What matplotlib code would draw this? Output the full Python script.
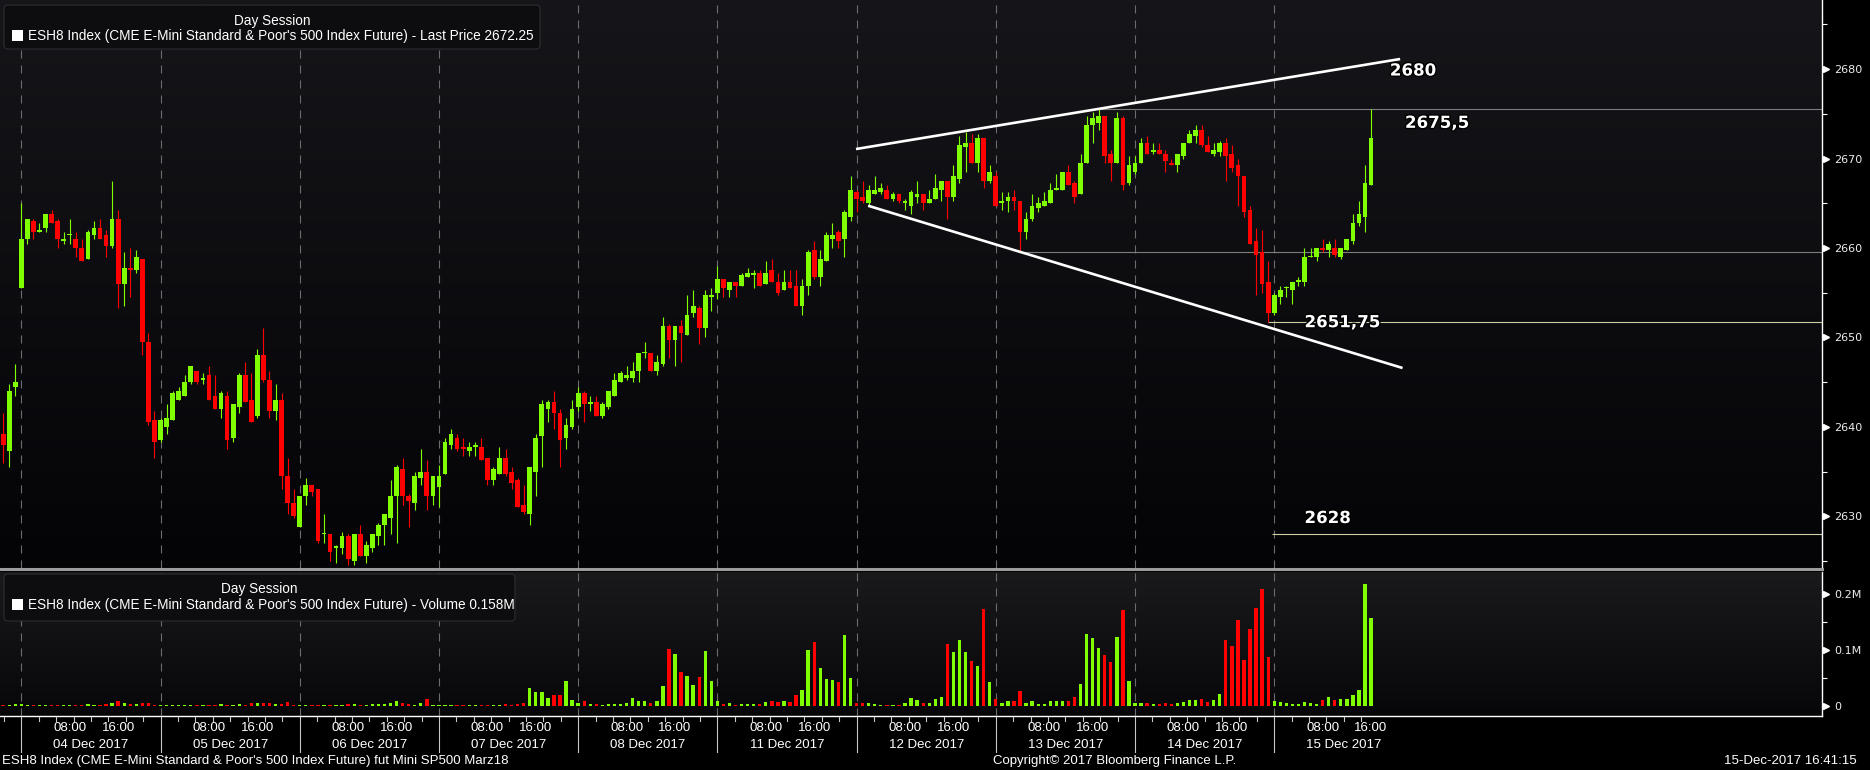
import numpy as np
import matplotlib
matplotlib.use('Agg')
import matplotlib.pyplot as plt
import matplotlib.transforms as mtrans
import matplotlib.patheffects as pe
from matplotlib.patches import FancyBboxPatch, Rectangle
from matplotlib.lines import Line2D

plt.rcParams['font.family'] = ['Liberation Sans', 'DejaVu Sans']
plt.rcParams['lines.scale_dashes'] = False

# hourly bars, bar 0 = 04 Dec 00:00, 23 bars per trading day
first_bar = -3
bars_per_day = 23
days = ['04 Dec 2017', '05 Dec 2017', '06 Dec 2017', '07 Dec 2017', '08 Dec 2017',
        '11 Dec 2017', '12 Dec 2017', '13 Dec 2017', '14 Dec 2017', '15 Dec 2017']

opens = [
    2639.25, 2637.25, 2644.5,
    2655.5, 2661.0, 2663.0, 2661.75, 2662.25, 2663.75, 2663.0, 2660.75, 2661.5, 2661.0, 2660.0, 2658.75, 2661.5, 2662.25, 2661.5, 2660.25, 2663.25, 2656.0, 2657.75, 2657.5, 2658.75, 2649.5, 2640.75,
    2638.5, 2640.0, 2640.75, 2643.0, 2643.5, 2645.0, 2646.25, 2645.25, 2645.75, 2643.5, 2642.0, 2643.5, 2638.75, 2642.25, 2645.75, 2643.0, 2641.25, 2648.0, 2645.25, 2641.75, 2643.0, 2634.5, 2631.5,
    2628.75, 2632.25, 2633.5, 2633.0, 2628.0, 2628.0, 2626.5, 2626.5, 2627.75, 2625.0, 2628.0, 2625.5, 2626.5, 2627.75, 2629.0, 2629.75, 2632.25, 2635.25, 2632.25, 2631.5, 2634.25, 2635.0, 2632.25,
    2633.25, 2634.75, 2638.0, 2638.75, 2637.75, 2637.25, 2637.75, 2637.75, 2636.5, 2634.0, 2634.75, 2636.5, 2635.0, 2634.0, 2631.25, 2630.25, 2635.0, 2639.0, 2642.0, 2642.75, 2641.5, 2638.75, 2640.0,
    2642.25, 2643.75, 2642.5, 2642.75, 2641.25, 2642.25, 2643.5, 2645.0, 2645.5, 2645.5, 2646.25, 2648.25, 2648.25, 2646.25, 2647.0, 2651.25, 2649.75, 2651.25, 2650.25, 2652.75, 2653.25, 2651.0, 2654.5,
    2655.0, 2656.5, 2655.25, 2656.25, 2655.75, 2656.75, 2657.0, 2657.25, 2656.0, 2657.5, 2656.25, 2655.25, 2656.25, 2655.75, 2653.5, 2655.75, 2659.75, 2656.75, 2658.5, 2661.0, 2661.75, 2661.0, 2663.5,
    2666.25, 2665.75, 2665.0, 2666.0, 2666.25, 2666.5, 2665.5, 2666.0, 2665.0, 2664.75, 2665.75, 2666.0, 2665.0, 2665.5, 2666.5, 2667.5, 2665.75, 2667.75, 2671.25, 2671.75, 2669.5, 2672.25, 2667.5,
    2668.0, 2665.0, 2665.25, 2665.75, 2665.25, 2661.75, 2663.25, 2664.5, 2664.75, 2665.0, 2666.5, 2666.5, 2668.5, 2667.25, 2666.0, 2669.5, 2673.75, 2674.0, 2674.75, 2670.5, 2669.5, 2674.5, 2667.25,
    2668.5, 2669.5, 2671.75, 2670.75, 2671.0, 2670.5, 2669.5, 2669.25, 2670.25, 2671.75, 2672.5, 2673.25, 2671.5, 2670.5, 2670.75, 2671.75, 2670.5, 2669.25, 2668.0, 2664.25, 2660.75, 2659.5, 2656.25,
    2652.75, 2654.5, 2655.5, 2655.25, 2656.25, 2656.25, 2659.0, 2659.0, 2660.0, 2659.75, 2660.0, 2659.0, 2659.75, 2660.75, 2662.75, 2663.5, 2667.0,
]
highs = [
    2641.5, 2644.75, 2647.0,
    2665.0, 2663.25, 2663.25, 2662.75, 2663.75, 2664.25, 2663.25, 2661.75, 2663.25, 2661.75, 2661.0, 2662.0, 2663.0, 2663.25, 2662.0, 2667.5, 2664.25, 2659.5, 2660.0, 2659.75, 2658.75, 2650.5, 2641.75,
    2641.0, 2642.5, 2644.0, 2644.5, 2645.75, 2646.75, 2646.25, 2646.0, 2646.75, 2645.75, 2644.0, 2644.0, 2642.5, 2646.0, 2647.25, 2646.0, 2648.75, 2651.0, 2646.25, 2644.75, 2643.75, 2636.5, 2633.0,
    2632.25, 2634.25, 2633.5, 2633.0, 2630.25, 2628.0, 2626.75, 2628.25, 2628.0, 2628.0, 2629.0, 2627.25, 2628.0, 2629.25, 2630.25, 2634.0, 2635.75, 2636.5, 2632.5, 2635.0, 2637.5, 2636.25, 2634.5,
    2635.75, 2638.75, 2639.75, 2639.25, 2638.75, 2638.25, 2638.25, 2638.75, 2636.5, 2635.5, 2637.75, 2637.5, 2635.5, 2634.25, 2633.5, 2635.5, 2639.25, 2643.0, 2643.0, 2644.0, 2642.0, 2641.0, 2643.0,
    2644.5, 2644.0, 2643.5, 2643.5, 2642.75, 2644.0, 2646.0, 2646.25, 2646.75, 2647.25, 2648.25, 2649.5, 2648.25, 2648.0, 2652.25, 2651.5, 2651.25, 2652.0, 2654.75, 2655.25, 2653.5, 2655.25, 2655.5,
    2658.0, 2656.5, 2656.25, 2656.25, 2657.25, 2657.75, 2657.5, 2657.5, 2658.5, 2658.75, 2657.25, 2657.5, 2657.5, 2657.5, 2656.5, 2659.75, 2660.75, 2659.75, 2661.75, 2662.75, 2662.0, 2664.25, 2668.0,
    2666.5, 2667.5, 2667.0, 2668.0, 2667.25, 2667.0, 2666.25, 2666.0, 2665.5, 2666.5, 2667.5, 2666.0, 2666.5, 2668.25, 2667.5, 2667.5, 2669.25, 2672.5, 2673.0, 2672.75, 2672.75, 2672.25, 2669.25,
    2668.5, 2666.25, 2666.25, 2666.5, 2665.25, 2664.0, 2666.0, 2665.75, 2666.25, 2667.25, 2668.25, 2668.5, 2669.25, 2667.5, 2670.5, 2674.75, 2675.25, 2675.5, 2674.75, 2671.0, 2675.25, 2674.75, 2670.25,
    2670.25, 2672.25, 2672.5, 2671.75, 2671.75, 2671.0, 2670.0, 2670.5, 2671.75, 2673.25, 2673.75, 2673.75, 2672.5, 2671.75, 2672.0, 2672.25, 2671.5, 2670.0, 2668.0, 2664.75, 2662.25, 2662.0, 2658.5,
    2655.0, 2655.75, 2655.75, 2656.25, 2656.75, 2660.0, 2660.0, 2660.0, 2661.0, 2660.75, 2661.0, 2660.0, 2661.0, 2663.75, 2665.25, 2669.25, 2675.5,
]
lows = [
    2636.0, 2635.5, 2643.5,
    2655.5, 2660.5, 2661.0, 2661.75, 2661.75, 2662.75, 2660.0, 2660.5, 2660.5, 2659.0, 2658.5, 2658.75, 2661.0, 2661.0, 2659.0, 2660.0, 2653.25, 2653.5, 2654.5, 2657.25, 2648.0, 2640.25, 2636.5,
    2638.25, 2639.25, 2640.75, 2643.0, 2643.5, 2644.75, 2644.75, 2644.75, 2643.0, 2642.0, 2641.0, 2637.5, 2638.25, 2641.5, 2642.75, 2640.5, 2641.0, 2645.0, 2641.0, 2640.75, 2633.0, 2630.25, 2629.75,
    2628.75, 2631.25, 2632.25, 2627.0, 2627.0, 2625.0, 2624.75, 2625.75, 2624.5, 2624.5, 2625.5, 2624.75, 2626.0, 2626.75, 2626.75, 2628.0, 2627.0, 2631.25, 2628.75, 2630.75, 2633.5, 2630.75, 2631.25,
    2631.0, 2634.75, 2637.5, 2637.25, 2636.75, 2636.75, 2636.75, 2636.25, 2633.5, 2633.5, 2634.75, 2634.5, 2633.0, 2631.0, 2630.25, 2629.0, 2632.25, 2635.5, 2640.5, 2639.75, 2635.5, 2637.5, 2639.75,
    2641.75, 2640.5, 2641.75, 2641.25, 2641.0, 2642.0, 2643.5, 2645.0, 2645.25, 2645.0, 2645.0, 2647.75, 2646.25, 2645.75, 2646.75, 2647.75, 2646.75, 2647.25, 2650.25, 2652.25, 2649.25, 2650.0, 2653.0,
    2654.25, 2654.5, 2654.5, 2654.5, 2655.75, 2656.75, 2655.5, 2655.75, 2656.0, 2656.25, 2654.75, 2655.25, 2655.5, 2653.5, 2652.5, 2654.75, 2656.5, 2655.75, 2658.5, 2660.0, 2660.0, 2659.0, 2663.0,
    2664.0, 2665.0, 2664.75, 2666.0, 2666.0, 2665.5, 2665.25, 2665.0, 2664.25, 2663.75, 2665.0, 2664.25, 2665.0, 2665.5, 2665.25, 2663.25, 2665.25, 2667.25, 2668.5, 2669.5, 2668.5, 2666.75, 2667.25,
    2664.75, 2664.25, 2664.0, 2664.25, 2659.5, 2661.0, 2663.0, 2664.0, 2664.75, 2665.0, 2666.5, 2666.5, 2667.0, 2665.0, 2666.0, 2669.5, 2671.75, 2673.25, 2669.5, 2667.5, 2669.5, 2666.5, 2667.0,
    2668.25, 2669.5, 2670.5, 2670.5, 2670.5, 2668.5, 2669.25, 2668.5, 2670.0, 2671.75, 2671.75, 2671.25, 2670.75, 2670.25, 2670.25, 2667.5, 2668.5, 2664.75, 2663.5, 2660.5, 2654.75, 2655.0, 2651.75,
    2652.5, 2653.75, 2654.5, 2653.75, 2655.75, 2655.75, 2659.0, 2658.5, 2659.5, 2659.0, 2659.0, 2658.75, 2659.75, 2660.5, 2662.5, 2661.75, 2667.0,
]
closes = [
    2638.0, 2644.0, 2645.0,
    2661.0, 2663.25, 2661.75, 2662.0, 2663.75, 2662.75, 2661.0, 2661.0, 2661.5, 2660.0, 2658.5, 2661.75, 2662.25, 2661.0, 2660.25, 2663.25, 2656.0, 2657.75, 2657.5, 2659.0, 2649.5, 2640.5, 2638.25,
    2640.75, 2641.0, 2643.75, 2644.0, 2645.0, 2646.75, 2645.0, 2645.5, 2643.0, 2642.0, 2643.75, 2638.5, 2642.5, 2645.75, 2642.75, 2640.5, 2648.0, 2645.25, 2641.75, 2643.0, 2634.5, 2631.5, 2630.0,
    2632.25, 2633.5, 2632.75, 2627.25, 2628.0, 2626.0, 2626.5, 2627.75, 2625.25, 2628.0, 2625.5, 2626.75, 2628.0, 2629.0, 2630.25, 2632.25, 2635.5, 2632.25, 2631.75, 2634.5, 2635.0, 2632.25, 2634.5,
    2634.5, 2638.25, 2639.25, 2637.5, 2637.5, 2637.75, 2638.0, 2636.25, 2634.0, 2635.25, 2636.5, 2634.75, 2633.75, 2631.0, 2630.5, 2635.5, 2638.75, 2642.5, 2642.75, 2641.5, 2638.5, 2640.25, 2642.0,
    2643.75, 2642.5, 2642.75, 2641.25, 2642.5, 2644.0, 2645.25, 2646.0, 2645.75, 2646.25, 2648.25, 2648.25, 2646.25, 2647.25, 2651.25, 2649.75, 2651.25, 2650.5, 2652.5, 2653.5, 2651.0, 2654.75, 2654.75,
    2656.5, 2655.5, 2656.25, 2655.75, 2657.0, 2657.25, 2657.25, 2655.75, 2657.25, 2656.25, 2655.0, 2656.25, 2655.5, 2653.5, 2655.75, 2659.5, 2656.75, 2658.75, 2661.5, 2661.5, 2660.75, 2664.0, 2666.5,
    2665.5, 2665.25, 2666.5, 2666.5, 2666.75, 2665.5, 2666.0, 2665.25, 2665.25, 2666.25, 2666.0, 2665.0, 2665.5, 2666.75, 2667.5, 2665.75, 2668.0, 2671.5, 2671.75, 2669.5, 2672.25, 2667.5, 2668.5,
    2664.75, 2665.25, 2665.75, 2665.25, 2661.75, 2663.25, 2664.75, 2665.0, 2665.25, 2666.5, 2666.75, 2668.5, 2667.0, 2665.75, 2669.5, 2673.75, 2674.5, 2674.75, 2670.25, 2669.5, 2674.5, 2667.0, 2669.25,
    2669.5, 2671.75, 2670.5, 2671.0, 2670.5, 2669.75, 2669.25, 2670.5, 2671.75, 2672.75, 2673.25, 2671.5, 2670.75, 2671.0, 2671.75, 2670.25, 2669.0, 2668.0, 2664.0, 2660.5, 2659.25, 2656.0, 2652.75,
    2654.75, 2655.25, 2655.5, 2656.25, 2656.25, 2659.0, 2659.0, 2660.0, 2659.75, 2660.5, 2659.25, 2660.0, 2661.0, 2662.75, 2663.75, 2667.25, 2672.25,
]
# volume in millions
volumes = [
    0.002, 0.002, 0.003,
    0.003, 0.002, 0.002, 0.002, 0.002, 0.002, 0.002, 0.002, 0.002, 0.002, 0.002, 0.003, 0.002, 0.002, 0.003, 0.005, 0.009, 0.005, 0.003, 0.003, 0.006, 0.006, 0.002,
    0.002, 0.002, 0.002, 0.002, 0.002, 0.002, 0.002, 0.002, 0.002, 0.002, 0.003, 0.002, 0.002, 0.003, 0.002, 0.006, 0.005, 0.005, 0.005, 0.003, 0.004, 0.007, 0.002,
    0.002, 0.002, 0.002, 0.002, 0.002, 0.002, 0.002, 0.002, 0.003, 0.003, 0.002, 0.002, 0.003, 0.004, 0.004, 0.006, 0.009, 0.005, 0.004, 0.002, 0.005, 0.013, 0.002,
    0.002, 0.002, 0.002, 0.002, 0.002, 0.002, 0.002, 0.002, 0.002, 0.002, 0.002, 0.003, 0.002, 0.003, 0.005, 0.032, 0.025, 0.025, 0.014, 0.020, 0.020, 0.045, 0.011,
    0.005, 0.009, 0.003, 0.003, 0.002, 0.003, 0.003, 0.003, 0.005, 0.014, 0.009, 0.009, 0.005, 0.009, 0.036, 0.101, 0.092, 0.061, 0.053, 0.038, 0.052, 0.098, 0.045,
    0.009, 0.004, 0.005, 0.002, 0.004, 0.004, 0.004, 0.004, 0.007, 0.009, 0.007, 0.009, 0.007, 0.020, 0.029, 0.100, 0.114, 0.068, 0.048, 0.046, 0.043, 0.127, 0.050,
    0.005, 0.005, 0.005, 0.004, 0.002, 0.002, 0.002, 0.002, 0.005, 0.014, 0.011, 0.005, 0.005, 0.013, 0.016, 0.111, 0.096, 0.118, 0.096, 0.080, 0.071, 0.173, 0.043,
    0.013, 0.005, 0.009, 0.009, 0.027, 0.005, 0.009, 0.004, 0.004, 0.009, 0.009, 0.009, 0.009, 0.016, 0.039, 0.129, 0.121, 0.104, 0.091, 0.079, 0.123, 0.171, 0.045,
    0.005, 0.005, 0.005, 0.004, 0.004, 0.005, 0.004, 0.005, 0.007, 0.011, 0.011, 0.013, 0.007, 0.011, 0.021, 0.118, 0.107, 0.154, 0.082, 0.138, 0.175, 0.209, 0.088,
    0.009, 0.007, 0.005, 0.004, 0.004, 0.007, 0.005, 0.004, 0.011, 0.016, 0.011, 0.013, 0.013, 0.020, 0.029, 0.218, 0.158,
]

# drawn levels: (price, bar where it starts, colour)
levels = [(2675.5, 178, '#7c7c7c'), (2659.5, 165, '#7c7c7c'),
          (2651.75, 206, '#cfcfa2'), (2628.0, 206.6, '#cfcfa2')]
level_labels = [('2680', 226.1, 2679.85), ('2675,5', 228.6, 2674.0),
                ('2651,75', 212.0, 2651.7), ('2628', 212.0, 2629.8)]
upper_trend = ([137.9, 227.8], [2671.07, 2681.14])
lower_trend = ([139.9, 228.2], [2664.73, 2646.58])

GREEN = '#7fff00'
RED = '#ff0000'
W, H = 1870, 770


def fx(px):
    return px / W


def fy(py):
    return 1 - py / H


def shade(a, top, bottom):
    g = np.linspace(0, 1, 200)[:, None, None]
    img = np.array(top)[None, None, :] / 255 * (1 - g) + np.array(bottom)[None, None, :] / 255 * g
    a.imshow(img, extent=(0, 1, 0, 1), transform=a.transAxes, aspect='auto',
             zorder=0, interpolation='bilinear')


fig = plt.figure(figsize=(W / 100, H / 100), dpi=100, facecolor='black')
ax = fig.add_axes([0, fy(568), fx(1822), 568 / H])
axv = fig.add_axes([0, fy(716), fx(1822), 144 / H])

xs = np.arange(first_bar, first_bar + len(opens))
o, hi, lo, c = map(np.array, (opens, highs, lows, closes))
cols = np.where(c >= o, GREEN, RED)

shade(ax, (22, 22, 26), (4, 4, 7))
shade(axv, (26, 26, 29), (7, 7, 9))

xmax = 297.5
for a in (ax, axv):
    for k in range(len(days)):
        a.axvline(k * bars_per_day, color='#6c6c6c', lw=0.8, ls=(0, (5.8, 5.0)), zorder=1)

# candles
ax.vlines(xs, lo, hi, colors=cols, lw=0.8, zorder=3)
body = np.maximum(np.abs(c - o), 0.12)
ax.bar(xs, body, bottom=np.minimum(o, c), width=0.78, color=cols, lw=0, zorder=4)

# volume
axv.bar(xs, volumes, width=0.55, color=cols, lw=0, zorder=3)

# annotations
for price, start, col in levels:
    ax.hlines(price, start, xmax, color=col, lw=0.8, zorder=2)
ax.plot(*upper_trend, color='white', lw=1.9, zorder=5, solid_capstyle='butt')
ax.plot(*lower_trend, color='white', lw=1.9, zorder=5, solid_capstyle='butt')
for txt, x, y in level_labels:
    ax.text(x, y, txt, color='white', fontsize=12, fontweight='bold', family='DejaVu Sans',
            ha='left', va='center', zorder=6,
            path_effects=[pe.withStroke(linewidth=2, foreground='black')])

ax.set_xlim(first_bar - 0.52, xmax)
ax.set_ylim(2624.21, 2687.74)
axv.set_xlim(first_bar - 0.52, xmax)
axv.set_ylim(-0.0179, 0.2393)

price_ticks = [2630, 2640, 2650, 2660, 2670, 2680]
vol_ticks = [0, 0.1, 0.2]
for a, maj, lab, mnr in ((ax, price_ticks, [str(t) for t in price_ticks], [2625, 2635, 2645, 2655, 2665, 2675, 2685]),
                         (axv, vol_ticks, ['0', '0.1M', '0.2M'], [0.05, 0.15])):
    a.set_facecolor('black')
    for s in ('top', 'left', 'bottom'):
        a.spines[s].set_visible(False)
    a.spines['right'].set_color('white')
    a.spines['right'].set_linewidth(1.0)
    a.yaxis.tick_right()
    a.set_yticks(maj, lab, fontsize=8, family='DejaVu Sans', color='#ececec')
    a.set_yticks(mnr, minor=True)
    a.tick_params(axis='y', which='major', length=0, pad=9)
    a.tick_params(axis='y', which='minor', length=3.5, width=0.8, color='white')
    a.set_xticks([])
    tri = mtrans.offset_copy(mtrans.blended_transform_factory(a.transAxes, a.transData),
                             fig=fig, x=4, y=0, units='dots')
    a.plot(np.ones(len(maj)), maj, ls='none', marker='>', ms=4.5, color='white',
           transform=tri, clip_on=False)

axv.spines['bottom'].set_visible(True)
axv.spines['bottom'].set_color('white')
axv.spines['bottom'].set_linewidth(1.0)

# separator between panels
fig.add_artist(Line2D([0, fx(1822)], [fy(569), fy(569)], color='#9c9c9c', lw=2.2))

# time axis
tr = mtrans.blended_transform_factory(axv.transData, fig.transFigure)
for k, d in enumerate(days):
    x0 = k * bars_per_day
    fig.add_artist(Line2D([x0, x0], [fy(717), fy(752)], transform=tr, color='#c8c8c8', lw=0.8))
    fig.text(x0 + 8, fy(728), '08:00', transform=tr, ha='center', va='center', color='white', fontsize=9.5)
    fig.text(x0 + 16, fy(728), '16:00', transform=tr, ha='center', va='center', color='white', fontsize=9.5)
    fig.text(x0 + 11.5, fy(745), d, transform=tr, ha='center', va='center', color='white', fontsize=9.5)
for k in range(-1, len(days)):
    for j in range(1, 8):
        xm = k * bars_per_day + j * bars_per_day / 8
        if first_bar - 0.5 < xm < 224:
            fig.add_artist(Line2D([xm, xm], [fy(717), fy(721)], transform=tr, color='#c8c8c8', lw=0.8))

# legend boxes
ident = mtrans.IdentityTransform()
for (x0, y0, x1, y1), line in (((4, 5, 540, 49), "ESH8 Index (CME E-Mini Standard & Poor's 500 Index Future) - Last Price 2672.25"),
                               ((4, 574, 515, 621), "ESH8 Index (CME E-Mini Standard & Poor's 500 Index Future) - Volume 0.158M")):
    fig.add_artist(FancyBboxPatch((x0, H - y1), x1 - x0, y1 - y0,
                                  boxstyle='round,pad=0,rounding_size=4', transform=ident,
                                  facecolor='#0d0d0f', edgecolor='#2e2e32', lw=0.8, zorder=5))
    fig.text(fx((x0 + x1) / 2), fy(y0 + 15.5), 'Day Session', ha='center', va='center',
             color='white', fontsize=9.8, zorder=6)
    fig.add_artist(Rectangle((12, H - (y0 + 36)), 11, 11, transform=ident,
                             facecolor='white', lw=0, zorder=6))
    fig.text(fx(27.5), fy(y0 + 31), line, ha='left', va='center', color='white',
             fontsize=9.8, zorder=6)

# footer
fig.text(fx(2), fy(761), "ESH8 Index (CME E-Mini Standard & Poor's 500 Index Future) fut Mini SP500 Marz18",
         ha='left', va='center', color='white', fontsize=9.5)
fig.text(fx(1115), fy(761), 'Copyright\u00a9 2017 Bloomberg Finance L.P.', ha='center', va='center',
         color='white', fontsize=9.5)
fig.text(fx(1857), fy(761), '15-Dec-2017 16:41:15', ha='right', va='center', color='white', fontsize=9.5)

fig.savefig('out.png', dpi=100, facecolor='black')
